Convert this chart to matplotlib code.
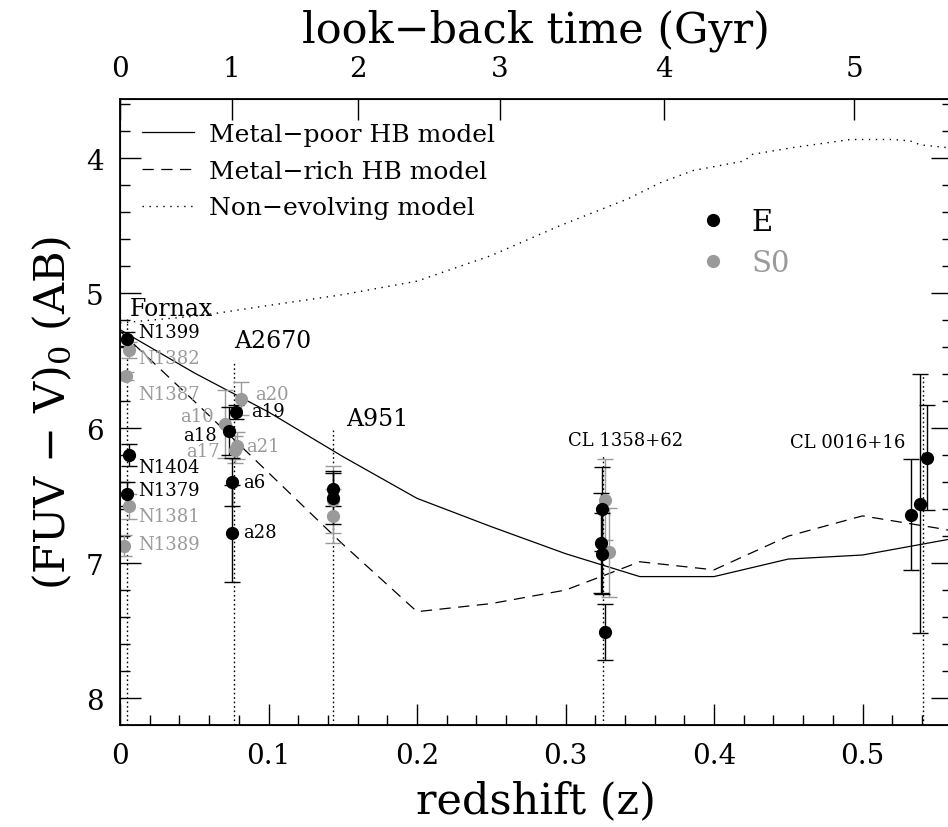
import numpy as np
import matplotlib
matplotlib.use("Agg")
import matplotlib.pyplot as plt
from matplotlib.lines import Line2D

plt.rcParams['font.family'] = ['DejaVu Serif']
plt.rcParams['mathtext.fontset'] = 'dejavuserif'

GRAY = '#9a9a9a'

# model curves (redshift, FUV-V colour)
z_poor = [0.0, 0.05, 0.1, 0.15, 0.2, 0.25, 0.3, 0.35, 0.4, 0.45, 0.5, 0.56]
m_poor = [5.27, 5.59, 5.88, 6.21, 6.52, 6.73, 6.93, 7.10, 7.10, 6.97, 6.94, 6.82]

z_rich = [0.0, 0.05, 0.1, 0.15, 0.2, 0.25, 0.3, 0.35, 0.4, 0.45, 0.5, 0.55, 0.56]
m_rich = [5.28, 5.80, 6.33, 6.86, 7.36, 7.30, 7.20, 6.99, 7.05, 6.80, 6.65, 6.74, 6.76]

z_noev = [0.0, 0.05, 0.07, 0.094, 0.15, 0.2, 0.25, 0.296, 0.342, 0.364, 0.386,
          0.42, 0.426, 0.453, 0.492, 0.52, 0.532, 0.539, 0.557]
m_noev = [5.22, 5.17, 5.14, 5.10, 5.01, 4.91, 4.72, 4.50, 4.30, 4.18, 4.09,
          4.02, 3.97, 3.92, 3.86, 3.86, 3.87, 3.90, 3.92]

# elliptical galaxies
E_z = [0.0047, 0.0063, 0.0047,
       0.0779, 0.0736, 0.0754, 0.0752,
       0.1432, 0.1432,
       0.3245, 0.3240, 0.3245, 0.3265,
       0.5327, 0.5387, 0.5436]
E_mag = [5.34, 6.20, 6.49,
         5.88, 6.02, 6.40, 6.78,
         6.45, 6.52,
         6.60, 6.85, 6.93, 7.51,
         6.64, 6.56, 6.22]
E_err = [0.05, 0.08, 0.09,
         0.05, 0.18, 0.18, 0.36,
         0.13, 0.19,
         0.31, 0.37, 0.30, 0.21,
         0.41, 0.96, 0.39]

# S0 galaxies
S0_z = [0.0063, 0.0040, 0.0063, 0.0029,
        0.0815, 0.0707, 0.0775, 0.0785,
        0.1432, 0.1432,
        0.3265, 0.3295]
S0_mag = [5.42, 5.61, 6.58, 6.87,
          5.78, 5.97, 6.16, 6.13,
          6.53, 6.65,
          6.53, 6.92]
S0_err = [0.06, 0.03, 0.09, 0.08,
          0.12, 0.25, 0.10, 0.10,
          0.25, 0.20,
          0.30, 0.33]

# galaxy name labels
gal_names = ['N1399', 'N1382', 'N1387', 'N1404', 'N1379', 'N1381', 'N1389',
             'a20', 'a19', 'a10', 'a18', 'a17', 'a21', 'a6', 'a28']
gal_name_z = [0.0124, 0.0124, 0.0124, 0.0124, 0.0124, 0.0124, 0.0124,
              0.0911, 0.0882, 0.0635, 0.0651, 0.0673, 0.0848, 0.0830, 0.0830]
gal_name_m = [5.29, 5.48, 5.75, 6.29, 6.46, 6.65, 6.86,
              5.75, 5.87, 5.91, 6.05, 6.17, 6.13, 6.40, 6.77]
gal_name_type = ['E', 'S0', 'S0', 'E', 'E', 'S0', 'S0',
                 'S0', 'E', 'S0', 'E', 'S0', 'S0', 'E', 'E']
gal_name_ha = ['left'] * 7 + ['left', 'left', 'right', 'right', 'right', 'left', 'left', 'left']

# clusters
clusters = ['Fornax', 'A2670', 'A951', 'CL 1358+62', 'CL 0016+16']
cluster_z = [0.0045, 0.0766, 0.1432, 0.3255, 0.541]
cluster_line_top = [5.19, 5.51, 6.00, 6.19, 5.60]
cluster_label_z = [0.0063, 0.077, 0.152, 0.3015, 0.4515]
cluster_label_m = [5.11, 5.35, 5.93, 6.09, 6.10]
cluster_label_size = [17, 17, 17, 13, 13]

# look-back time axis
lookback_labels = ['0', '1', '2', '3', '4', '5']
lookback_z = [0.0, 0.0753, 0.1604, 0.2557, 0.3664, 0.4943]

fig = plt.figure(figsize=(9.48, 8.28), dpi=100)
ax = fig.add_axes([0.1266, 0.1232, 0.8772, 0.7560])

l1, = ax.plot(z_poor, m_poor, color='black', lw=0.9, label='Metal−poor HB model')
l2, = ax.plot(z_rich, m_rich, color='black', lw=0.9, dashes=(9, 6),
              label='Metal−rich HB model')
l3, = ax.plot(z_noev, m_noev, color='black', lw=1.0, dashes=(1, 4),
              label='Non−evolving model')

for z, top in zip(cluster_z, cluster_line_top):
    ax.plot([z, z], [8.2, top], color='black', lw=1.0, dashes=(1.2, 2.0))

ax.errorbar(S0_z, S0_mag, yerr=S0_err, fmt='o', color=GRAY, ecolor=GRAY,
            ms=8.5, elinewidth=1, capsize=6, capthick=1)
ax.errorbar(E_z, E_mag, yerr=E_err, fmt='o', color='black', ecolor='black',
            ms=8.5, elinewidth=1, capsize=6, capthick=1)

for name, z, m, t, ha in zip(gal_names, gal_name_z, gal_name_m, gal_name_type, gal_name_ha):
    ax.text(z, m, name, fontsize=13, ha=ha, va='center',
            color='black' if t == 'E' else GRAY)

for name, z, m, s in zip(clusters, cluster_label_z, cluster_label_m, cluster_label_size):
    ax.text(z, m, name, fontsize=s, ha='left', va='center')

ax.set_xlim(0, 0.56)
ax.set_ylim(8.2, 3.56)
ax.set_xticks(np.arange(0, 0.51, 0.1))
ax.set_xticklabels(['0', '0.1', '0.2', '0.3', '0.4', '0.5'])
ax.set_xticks(np.arange(0, 0.56, 0.02), minor=True)
ax.set_yticks([4, 5, 6, 7, 8])
ax.set_yticks(np.arange(3.6, 8.2, 0.2), minor=True)
ax.tick_params(which='both', direction='in', top=False, right=True, width=1)
ax.tick_params(which='major', length=15, labelsize=20, pad=12)
ax.tick_params(which='minor', length=7.5)
for sp in ax.spines.values():
    sp.set_linewidth(1.3)

ax.set_xlabel('redshift (z)', fontsize=31, labelpad=8)
ax.set_ylabel('(FUV − V)$_0$ (AB)', fontsize=31, labelpad=8)

ax2 = ax.twiny()
ax2.set_xlim(ax.get_xlim())
ax2.set_xticks(lookback_z)
ax2.set_xticklabels(lookback_labels)
ax2.tick_params(direction='in', length=15, width=1, labelsize=20, pad=12)
ax2.set_xlabel('look−back time (Gyr)', fontsize=31, labelpad=10)

leg1 = ax.legend(handles=[l1, l2, l3], loc='upper left', frameon=False,
                 bbox_to_anchor=(0.026, 0.962), borderaxespad=0, borderpad=0,
                 fontsize=18, handlelength=2.1, handletextpad=0.6, labelspacing=0.55)
ax.add_artist(leg1)

hE = Line2D([], [], marker='o', ls='none', color='black', ms=8.5)
hS = Line2D([], [], marker='o', ls='none', color=GRAY, ms=8.5)
leg2 = ax.legend(handles=[hE, hS], labels=['E', 'S0'], loc='upper left', frameon=False,
                 bbox_to_anchor=(0.696, 0.826), borderaxespad=0, borderpad=0,
                 fontsize=21, handlelength=1.0, handletextpad=0.8, labelspacing=0.45)
leg2.get_texts()[1].set_color(GRAY)

fig.savefig('out.png', dpi=100)
